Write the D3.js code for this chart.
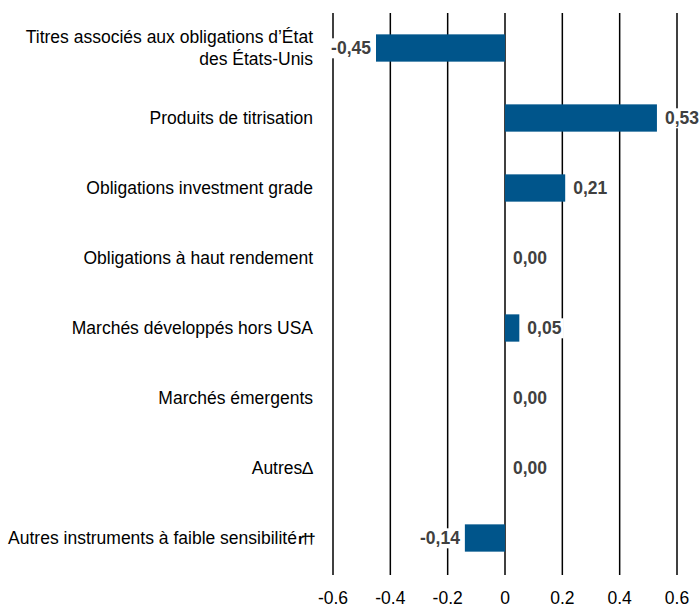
<!DOCTYPE html>
<html>
<head>
    <meta charset="utf-8">
    <title>Contribution par secteur</title>
    <script src="https://d3js.org/d3.v7.min.js"></script>
    <style>
        body { margin: 0; background: #fff; }
        text { font-family: "Liberation Sans Narrow", "Arial Narrow", "Liberation Sans", sans-serif; }
    </style>
</head>
<body>
<svg width="700" height="607"></svg>
<script>
    const categories = [
        "Titres associés aux obligations d’État|des États-Unis",
        "Produits de titrisation",
        "Obligations investment grade",
        "Obligations à haut rendement",
        "Marchés développés hors USA",
        "Marchés émergents",
        "Autres∆",
        "Autres instruments à faible sensibilitér††"
    ];
    const values = [-0.45, 0.53, 0.21, 0.00, 0.05, 0.00, 0.00, -0.14];
    const tickValues = [-0.6, -0.4, -0.2, 0, 0.2, 0.4, 0.6];

    const svg = d3.select("svg");

    const x = d3.scaleLinear().domain([-0.6, 0.6]).range([333, 677]);
    const y = d3.scaleBand().domain(d3.range(categories.length)).range([13, 573]).paddingInner(0.61).paddingOuter(0.305);

    // vertical gridlines
    svg.append("g").selectAll("line")
        .data(tickValues).enter().append("line")
        .attr("x1", d => x(d)).attr("x2", d => x(d))
        .attr("y1", 13).attr("y2", 575)
        .attr("stroke", "#000").attr("stroke-width", 1.5);

    // bars
    svg.append("g").selectAll("rect")
        .data(values).enter().append("rect")
        .attr("x", d => x(Math.min(0, d)))
        .attr("width", d => Math.abs(x(d) - x(0)))
        .attr("y", (d, i) => y(i))
        .attr("height", y.bandwidth())
        .attr("fill", "#00558B");

    // value labels with white backing
    const fmt = v => v.toFixed(2).replace(".", ",");
    const vl = svg.append("g").selectAll("g")
        .data(values).enter().append("g")
        .attr("transform", (d, i) => {
            const cy = y(i) + y.bandwidth() / 2;
            return d < 0 ? `translate(${x(d) - 5},${cy})` : `translate(${x(d) + 8},${cy})`;
        });
    vl.append("text")
        .attr("dy", "0.36em")
        .attr("text-anchor", d => d < 0 ? "end" : "start")
        .attr("font-size", 17.5)
        .attr("font-weight", "bold")
        .attr("fill", "#404040")
        .text(fmt)
        .each(function () {
            const b = this.getBBox();
            d3.select(this.parentNode).insert("rect", "text")
                .attr("x", b.x - 2).attr("y", b.y)
                .attr("width", b.width + 4).attr("height", b.height)
                .attr("fill", "#fff");
        });

    // category labels; footnote marks kept tight
    const cl = svg.append("g").selectAll("text")
        .data(categories).enter().append("text")
        .attr("text-anchor", "end")
        .attr("font-size", 17.5)
        .attr("fill", "#000")
        .attr("transform", (d, i) => `translate(313,${y(i) + y.bandwidth() / 2})`);
    cl.each(function (d) {
        const lines = d.split("|");
        const t = d3.select(this);
        lines.forEach((ln, j) => {
            const m = ln.match(/^(.*?)(r††)?$/);
            const ts = t.append("tspan")
                .attr("x", 0)
                .attr("dy", j === 0 ? (0.36 - (lines.length - 1) * 0.63) + "em" : "1.26em")
                .text(m[1]);
            if (m[2]) {
                t.append("tspan").attr("dx", 1).attr("letter-spacing", -2.5)
                    .attr("font-weight", "bold").attr("font-size", 15).text(m[2]);
            }
        });
    });

    // x axis tick labels
    svg.append("g").selectAll("text")
        .data(tickValues).enter().append("text")
        .attr("x", d => x(d))
        .attr("y", 598)
        .attr("dy", "0.36em")
        .attr("text-anchor", "middle")
        .attr("font-size", 17.5)
        .attr("fill", "#000")
        .text(d => d === 0 ? "0" : d.toFixed(1));
</script>
</body>
</html>
